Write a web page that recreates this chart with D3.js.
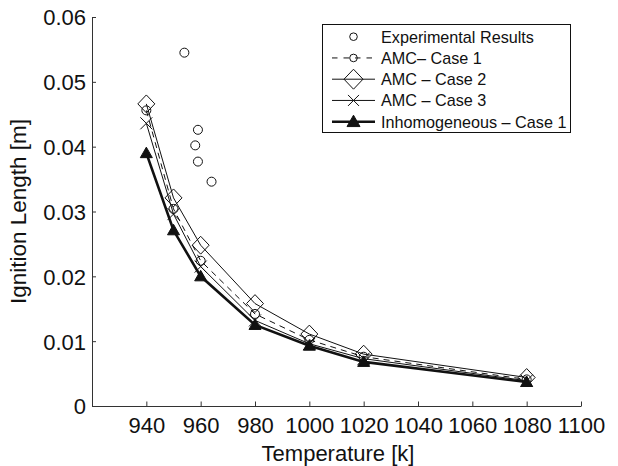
<!DOCTYPE html>
<html>
<head>
<meta charset="utf-8">
<script src="https://cdn.jsdelivr.net/npm/d3@7"></script>
<style>
  body { margin: 0; background: #fff; }
  text { font-family: "Liberation Sans", Arial, Helvetica, sans-serif; fill: #111; }
</style>
</head>
<body>
<div id="chart"></div>
<script>
// temperatures of the model runs
var temps = [940, 950, 960, 980, 1000, 1020, 1080];

var amcCase1 = [0.0456, 0.0304, 0.0224, 0.0142, 0.0102, 0.0076, 0.0041];
var amcCase2 = [0.0466, 0.0321, 0.0248, 0.0158, 0.0111, 0.0080, 0.0044];
var amcCase3 = [0.0436, 0.0296, 0.0215, 0.0132, 0.0096, 0.0073, 0.0039];
var inhomCase1 = [0.0390, 0.0271, 0.0200, 0.0125, 0.0093, 0.0068, 0.0037];

// experimental points
var expTemps = [954, 959, 958, 959, 964];
var expLengths = [0.0545, 0.0426, 0.0402, 0.0377, 0.0346];

var xTicks = [940, 960, 980, 1000, 1020, 1040, 1060, 1080, 1100];
var yTicks = [0, 0.01, 0.02, 0.03, 0.04, 0.05, 0.06];

var legendLabels = ["Experimental Results", "AMC\u2013 Case 1", "AMC \u2013 Case 2",
                    "AMC \u2013 Case 3", "Inhomogeneous \u2013 Case 1"];

const width = 618, height = 466;

var svg = d3.select("#chart")
  .append("svg")
  .attr("width", width)
  .attr("height", height);

var x = d3.scaleLinear().domain([920, 1100]).range([92, 581]);
var y = d3.scaleLinear().domain([0, 0.06]).range([406, 17]);

// axes, ticks pointing inwards
var xAxis = svg.append("g")
  .attr("transform", `translate(0,${y(0)})`)
  .call(d3.axisBottom(x).tickValues(xTicks).tickSizeInner(-4.5).tickSizeOuter(0).tickFormat(d3.format("d")));

var yAxis = svg.append("g")
  .attr("transform", `translate(${x(920)},0)`)
  .call(d3.axisLeft(y).tickValues(yTicks).tickSizeInner(-4).tickSizeOuter(0).tickFormat(d => d === 0 ? "0" : d3.format(".2f")(d)));

svg.selectAll(".domain").attr("stroke", "#333").attr("stroke-width", 1);
svg.selectAll(".tick line").attr("stroke", "#333");

xAxis.selectAll(".tick text")
  .attr("y", 27)
  .attr("dy", 0)
  .style("font-size", "22px")
  .attr("fill", "#111");

yAxis.selectAll(".tick text")
  .attr("x", -6)
  .attr("dy", "0.36em")
  .style("font-size", "22px")
  .attr("fill", "#111");

// axis labels
svg.append("text")
  .attr("x", 338)
  .attr("y", 461)
  .attr("text-anchor", "middle")
  .style("font-size", "22px")
  .text("Temperature [k]");

svg.append("text")
  .attr("transform", `translate(26,${(y(0) + y(0.06)) / 2}) rotate(-90)`)
  .attr("text-anchor", "middle")
  .style("font-size", "22.5px")
  .text("Ignition Length [m]");

var line = d3.line()
  .x(d => x(d[0]))
  .y(d => y(d[1]));

function pairs(vals) {
  return temps.map((t, i) => [t, vals[i]]);
}

// marker shapes
function circleMark(g, cx, cy, r) {
  g.append("circle").attr("cx", cx).attr("cy", cy).attr("r", r)
    .attr("fill", "none").attr("stroke", "#111").attr("stroke-width", 1);
}
function diamondMark(g, cx, cy, s) {
  g.append("path")
    .attr("d", `M${cx},${cy - s * 1.05}L${cx + s},${cy}L${cx},${cy + s * 1.05}L${cx - s},${cy}Z`)
    .attr("fill", "none").attr("stroke", "#111").attr("stroke-width", 1);
}
function crossMark(g, cx, cy, s) {
  g.append("path")
    .attr("d", `M${cx - s},${cy - s}L${cx + s},${cy + s}M${cx - s},${cy + s}L${cx + s},${cy - s}`)
    .attr("fill", "none").attr("stroke", "#111").attr("stroke-width", 1);
}
function triangleMark(g, cx, cy, s) {
  g.append("path")
    .attr("d", `M${cx},${cy - s}L${cx + s},${cy + s * 0.75}L${cx - s},${cy + s * 0.75}Z`)
    .attr("fill", "#111").attr("stroke", "#111").attr("stroke-width", 1);
}

var series = [
  { vals: amcCase2, dash: null, width: 1, mark: diamondMark, size: 8.5 },
  { vals: amcCase3, dash: null, width: 1, mark: crossMark, size: 6 },
  { vals: amcCase1, dash: "6,5", width: 1, mark: circleMark, size: 4.5 },
  { vals: inhomCase1, dash: null, width: 2.6, mark: triangleMark, size: 6 }
];

var plot = svg.append("g");

series.forEach(s => {
  plot.append("path")
    .datum(pairs(s.vals))
    .attr("d", line)
    .attr("fill", "none")
    .attr("stroke", "#111")
    .attr("stroke-width", s.width)
    .attr("stroke-dasharray", s.dash);
  pairs(s.vals).forEach(p => s.mark(plot, x(p[0]), y(p[1]), s.size));
});

expTemps.forEach((t, i) => circleMark(plot, x(t), y(expLengths[i]), 4.5));

// legend
var legend = svg.append("g");
legend.append("rect")
  .attr("x", 322.5).attr("y", 24.5)
  .attr("width", 248).attr("height", 108)
  .attr("fill", "#fff").attr("stroke", "#111").attr("stroke-width", 1);

var rowY = d => 36.7 + d * 21.25;
var legendMarks = [
  { line: false, dash: null, width: 1, mark: circleMark, size: 3.8 },
  { line: true, dash: "5.5,6", width: 1, mark: circleMark, size: 3.8 },
  { line: true, dash: null, width: 1, mark: diamondMark, size: 9.5 },
  { line: true, dash: null, width: 1, mark: crossMark, size: 5.5 },
  { line: true, dash: null, width: 2.6, mark: triangleMark, size: 6.5 }
];

legendLabels.forEach((lab, i) => {
  var m = legendMarks[i];
  if (m.line) {
    legend.append("line")
      .attr("x1", 332).attr("x2", 375)
      .attr("y1", rowY(i)).attr("y2", rowY(i))
      .attr("stroke", "#111")
      .attr("stroke-width", m.width)
      .attr("stroke-dasharray", m.dash);
  }
  m.mark(legend, 353.5, rowY(i), m.size);
  legend.append("text")
    .attr("x", 381)
    .attr("y", rowY(i))
    .attr("dy", "0.36em")
    .style("font-size", "16.2px")
    .text(lab);
});
</script>
</body>
</html>
